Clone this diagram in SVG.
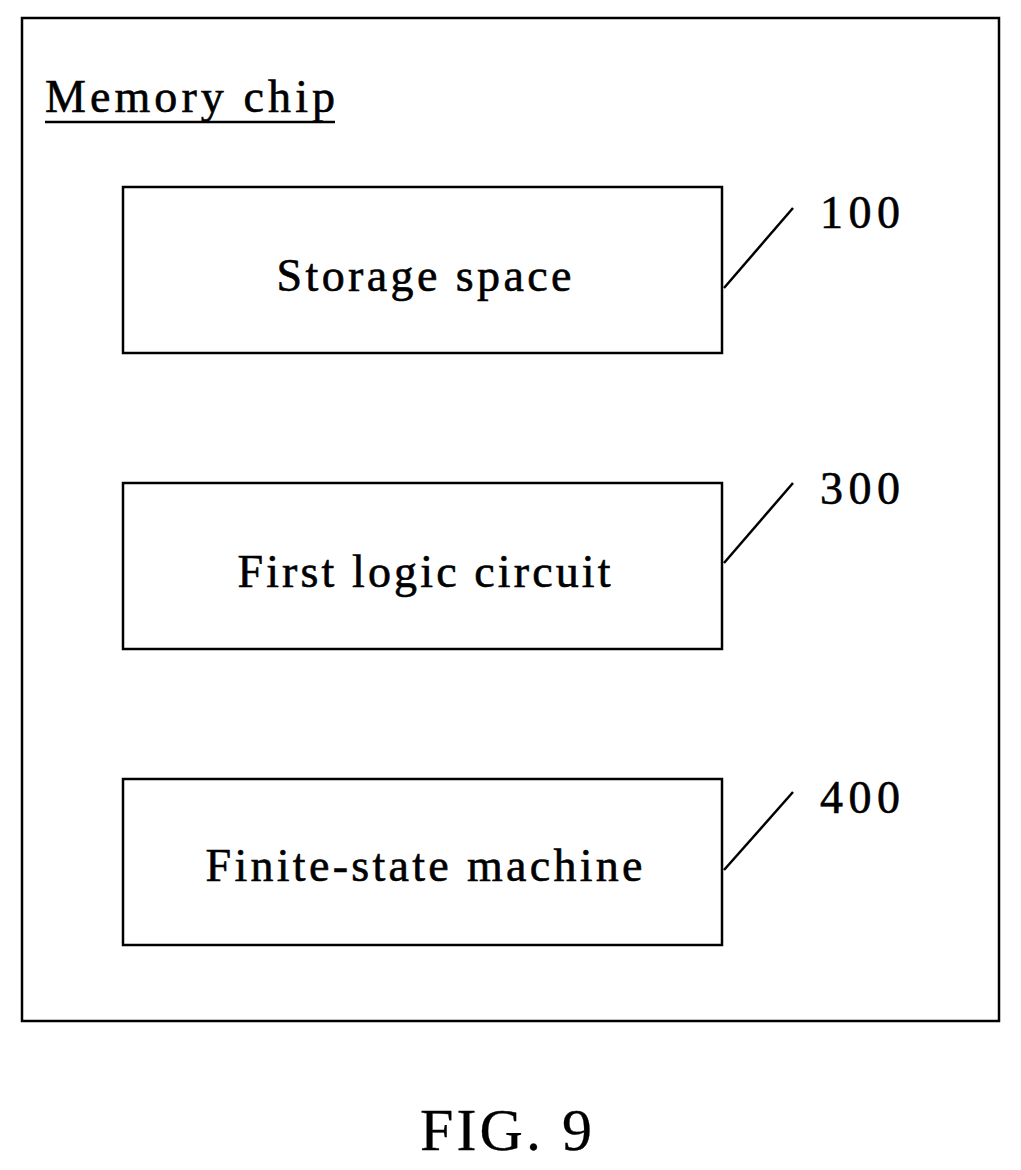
<svg xmlns="http://www.w3.org/2000/svg" width="1021" height="1170" viewBox="0 0 1021 1170">
<style>
rect{fill:#fff;stroke:#000;stroke-width:2.5}
text{font-family:"Liberation Serif",serif;fill:#000;stroke:#000;stroke-width:0.6}
.t{font-size:46px;text-anchor:middle}
.n{font-size:46px}
line{stroke:#000;stroke-width:2.5}
</style>
<rect x="0" y="0" width="1021" height="1170" style="stroke:none"/>
<g id="chip"><rect x="22" y="18" width="977" height="1003"/>
<text x="45" y="112" style="font-size:46px" textLength="290" lengthAdjust="spacing">Memory chip</text>
<line x1="45" y1="122" x2="335" y2="122"/></g>
<g id="n100"><rect x="123" y="187" width="599" height="166"/><text class="t" x="424" y="291" textLength="295" lengthAdjust="spacing">Storage space</text><text class="n" x="820" y="228" textLength="80" lengthAdjust="spacing">100</text></g>
<g id="n300"><rect x="123" y="483" width="599" height="166"/><text class="t" x="424" y="587" textLength="373" lengthAdjust="spacing">First logic circuit</text><text class="n" x="820" y="504" textLength="80" lengthAdjust="spacing">300</text></g>
<g id="n400"><rect x="123" y="779" width="599" height="166"/><text class="t" x="424" y="881" textLength="437" lengthAdjust="spacing">Finite-state machine</text><text class="n" x="820" y="813" textLength="80" lengthAdjust="spacing">400</text></g>
<g id="connectors">
<line x1="724" y1="288" x2="793" y2="208"/>
<line x1="724" y1="563" x2="793" y2="483"/>
<line x1="724" y1="870" x2="793" y2="792"/>
</g>
<text x="506" y="1150" style="font-size:60px;text-anchor:middle;stroke-width:0.3" textLength="172" lengthAdjust="spacing">FIG. 9</text>
</svg>
